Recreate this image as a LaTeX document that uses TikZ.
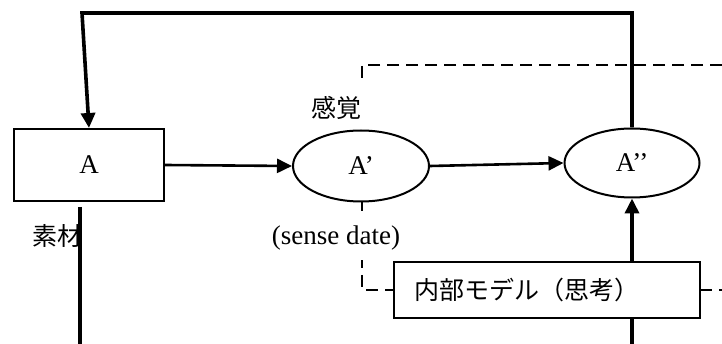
\documentclass[tikz,border=0pt]{standalone}
\usepackage{fontspec}
\setmainfont{Liberation Serif}
\newfontfamily\jp{Noto Sans CJK JP}
\usetikzlibrary{arrows.meta,shapes.geometric}
\begin{document}
\begin{tikzpicture}[x=1pt,y=-1pt,
  every node/.style={font=\fontsize{27}{32}\selectfont},
  jptext/.style={font=\jp\fontsize{25}{30}\selectfont},
  boxnode/.style={draw,line width=2pt,fill=white,rectangle,inner sep=0pt},
  ellnode/.style={draw,line width=2pt,fill=white,ellipse,inner sep=0pt},
  lbl/.style={fill=white,inner xsep=5pt,inner ysep=12pt},
  heavy/.style={line width=3.6pt},
  mid/.style={line width=2.6pt},
  tip/.style={-{Triangle[length=15pt,width=14pt]}},
  dashline/.style={line width=2.4pt,dash pattern=on 12pt off 7pt}
]
\useasboundingbox (0,0) rectangle (722,344);
% dashed frame (behind everything)
\draw[dashline] (722,65) -- (362,65) -- (362,290) -- (394,290);
\draw[dashline] (700,290) -- (722,290);
% labels with white backgrounds
\node[lbl,jptext] (kankaku) at (336,108) {感覚};
\node[lbl,inner ysep=10pt] (sense) at (336,238) {(sense date)};
\node[jptext] (sozai) at (57,236) {素材};
% main nodes
\node[boxnode,minimum width=150pt,minimum height=72pt] (boxA) at (89,165) {A};
\node[ellnode,minimum width=136pt,minimum height=71pt] (e1) at (361,166) {A’};
\node[ellnode,minimum width=135pt,minimum height=69pt] (e2) at (632,163) {A’’};
\node[boxnode,minimum width=306pt,minimum height=56pt,text width=306pt,inner xsep=0pt,align=left,jptext] (model) at (547,290) {\hspace*{20pt}内部モデル（思考）};
% coordinates for free ends
\coordinate (tr) at (632,13);
\coordinate (tl) at (82,13);
\coordinate (ltop) at (80,207);
\coordinate (lbot) at (80,344);
\coordinate (rbot) at (632,344);
% connectors
\draw[heavy,tip] (e2.north) -- (tr) -- (tl) -- (boxA.north);
\draw[mid,tip] (boxA.east) -- (e1.west);
\draw[mid,tip] (e1.east) -- (e2.west);
\draw[heavy,tip] (model.north -| e2.south) -- (e2.south);
\draw[heavy] (model.south -| rbot) -- (rbot);
\draw[heavy] (ltop) -- (lbot);
\end{tikzpicture}
\end{document}
